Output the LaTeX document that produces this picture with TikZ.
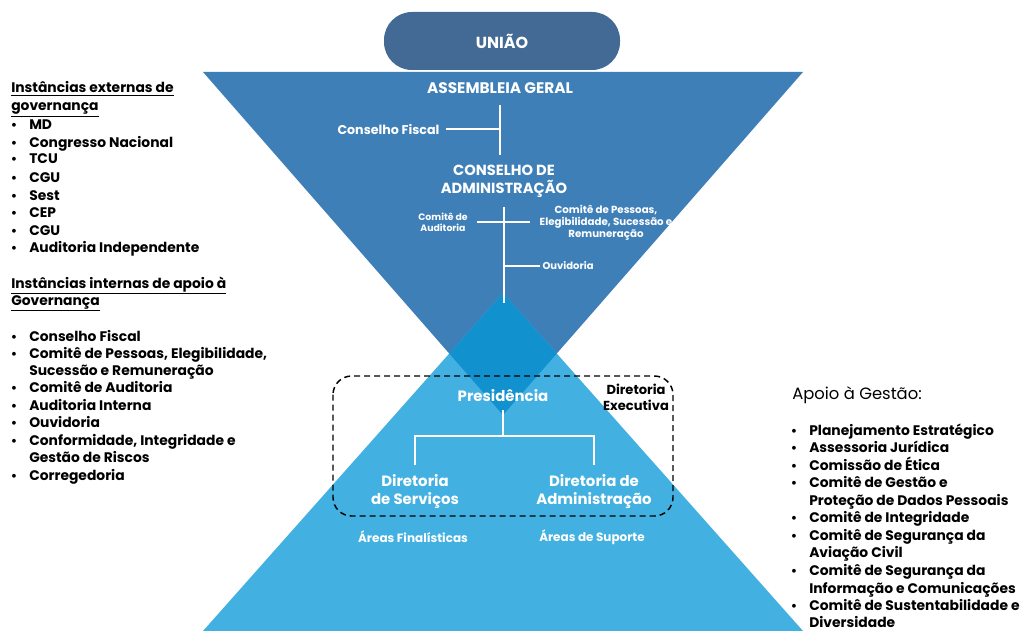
\documentclass[tikz,border=0pt]{standalone}
\usepackage{fontspec}
\setmainfont{Poppins}
\usetikzlibrary{positioning}
\definecolor{uniaocolor}{RGB}{66,106,148}
\definecolor{topcolor}{RGB}{63,127,184}
\definecolor{basecolor}{RGB}{66,176,224}
\definecolor{overlapcolor}{RGB}{18,145,207}

\begin{document}
\begin{tikzpicture}[
    x=0.75pt, y=-0.75pt,
    pill/.style={fill=uniaocolor, rounded corners=21pt, minimum width=177pt, minimum height=43.5pt, text=white, font=\bfseries\fontsize{12}{13}\selectfont},
    big/.style={text=white, align=center, inner sep=1pt, font=\bfseries\fontsize{11.2}{13.5}\selectfont},
    mid/.style={text=white, align=center, inner sep=1pt, font=\bfseries\fontsize{9}{10}\selectfont},
    small/.style={text=white, align=center, inner sep=1pt, font=\bfseries\fontsize{7.5}{8.5}\selectfont},
    link/.style={draw=white, line width=2pt},
    dirbox/.style={draw=black, dash pattern=on 4.5pt off 3pt, line width=1.1pt, rounded corners=14pt},
    item/.style={anchor=base west, inner sep=0pt, font=\bfseries\fontsize{10.4}{12}\selectfont},
    dot/.style={anchor=base, inner sep=0pt, font=\bfseries\fontsize{9.5}{12}\selectfont}
]
    \useasboundingbox (0,0) rectangle (1020,631);

    % Triangles
    \fill[topcolor] (203,72) -- (803,72) -- (503,415) -- cycle;
    \fill[basecolor] (503,293) -- (803,631) -- (203,631) -- cycle;
    \begin{scope}
        \clip (203,72) -- (803,72) -- (503,415) -- cycle;
        \fill[overlapcolor] (503,293) -- (803,631) -- (203,631) -- cycle;
    \end{scope}

    % Top of the structure
    \node[pill] (uniao) at (502,41) {UNIÃO};
    \node[big, font=\bfseries\fontsize{11.5}{13.5}\selectfont] (ag) at (500,88) {ASSEMBLEIA GERAL};
    \node[mid, font=\bfseries\fontsize{9.5}{10}\selectfont, anchor=east] (cf) at (441,129) {Conselho Fiscal};
    \node[big, font=\bfseries\fontsize{11}{13.5}\selectfont] (ca) at (504,181) {CONSELHO DE\\ADMINISTRAÇÃO};
    \node[small, font=\bfseries\fontsize{7}{8.5}\selectfont] (caud) at (443,222) {Comitê de\\Auditoria};
    \node[small, font=\bfseries\fontsize{7.7}{9}\selectfont] (cpes) at (606,223) {Comitê de Pessoas,\\Elegibilidade, Sucessão e\\Remuneração};
    \node[small, anchor=west] (ouv) at (541,266) {Ouvidoria};
    \coordinate (spine) at (503,303);

    \draw[link, shorten <=7.5pt, shorten >=6pt] (ag.south) -- (ag.south |- ca.north);
    \draw[link, shorten <=4pt] (cf.east) -- (cf.east -| ag.south);
    \draw[link, shorten <=6pt] (ca.south) -- (ca.south |- spine);
    \draw[link, shorten <=6pt, shorten >=6pt] (caud.east) -- (caud.east -| cpes.west);
    \draw[link, shorten >=1pt] (ouv.west -| spine) -- (ouv.west);

    % Diretoria Executiva
    \draw[dirbox] (333,376) rectangle (673,516);
    \node[big] (pres) at (503,396) {Presidência};
    \node[big] (dserv) at (415,492) {Diretoria\\de Serviços};
    \node[big] (dadm) at (594,492) {Diretoria de\\Administração};
    \node[mid] (afin) at (413,537) {Áreas Finalísticas};
    \node[mid] (asup) at (592,537) {Áreas de Suporte};
    \node[mid, text=black, font=\bfseries\fontsize{9.8}{12}\selectfont] (dexec) at (636,397) {Diretoria\\Executiva};
    \coordinate (split) at (504,436);

    \draw[link, shorten <=5pt] (pres.south) -- (pres.south |- split);
    \draw[link, shorten <=6pt, shorten >=6pt] (dserv.north) |- (split) -| (dadm.north);

    % External and internal governance
    \node[item] (exth1) at (11,93) {\underline{Instâncias externas de}};
    \node[item] (exth2) at (11,111) {\underline{governança}};
    \foreach \y/\b/\t [count=\i] in {130/1/MD, 147/1/Congresso Nacional, 164/1/TCU, 182/1/CGU,
        200/1/Sest, 217/1/CEP, 235/1/CGU, 252/1/Auditoria Independente}{
        \node[item] (ext\i) at (29,\y) {\t};
        \ifnum\b=1 \node[dot] (extb\i) at (14,\y) {\textbullet}; \fi
    }
    \node[item] (inth1) at (11,288) {\underline{Instâncias internas de apoio à}};
    \node[item] (inth2) at (11,305) {\underline{Governança}};
    \foreach \y/\b/\t [count=\i] in {341/1/Conselho Fiscal, 358/1/Comitê de Pessoas{,} Elegibilidade{,},
        375/0/Sucessão e Remuneração, 392/1/Comitê de Auditoria, 410/1/Auditoria Interna,
        427/1/Ouvidoria, 445/1/Conformidade{,} Integridade e, 462/0/Gestão de Riscos,
        480/1/Corregedoria}{
        \node[item] (int\i) at (29,\y) {\t};
        \ifnum\b=1 \node[dot] (intb\i) at (14,\y) {\textbullet}; \fi
    }

    % Support to management
    \node[item, font=\fontsize{12.3}{13}\selectfont] (apoio) at (792,399) {Apoio à Gestão:};
    \foreach \y/\b/\t [count=\i] in {435/1/Planejamento Estratégico, 452/1/Assessoria Jurídica,
        470/1/Comissão de Ética, 487/1/Comitê de Gestão e, 505/0/Proteção de Dados Pessoais,
        522/1/Comitê de Integridade, 540/1/Comitê de Segurança da, 557/0/Aviação Civil,
        575/1/Comitê de Segurança da, 593/0/Informação e Comunicações,
        610/1/Comitê de Sustentabilidade e, 627/0/Diversidade}{
        \node[item] (ges\i) at (809,\y) {\t};
        \ifnum\b=1 \node[dot] (gesb\i) at (794,\y) {\textbullet}; \fi
    }
\end{tikzpicture}
\end{document}
